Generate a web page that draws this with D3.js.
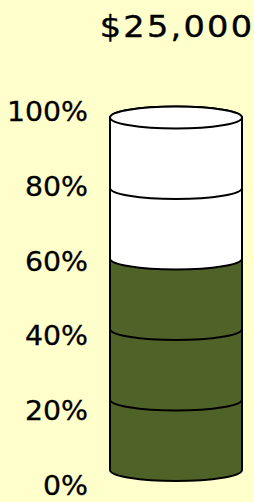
<!DOCTYPE html>
<html>
<head>
<meta charset="utf-8">
<script src="https://cdn.jsdelivr.net/npm/d3@7"></script>
<style>
  body { margin: 0; background: #ffffcc; }
  svg { display: block; }
  text { font-family: "DejaVu Sans", sans-serif; fill: #000; }
</style>
</head>
<body>
<div id="wrapper"></div>
<script>
// data
const goal = 25000
const segmentShares = [20, 20, 20, 20, 20]
const fundedShare = 60
const tickValues = [0, 20, 40, 60, 80, 100]

const dimensions = {
  width: 254,
  height: 502,
  cylinder: { left: 110, right: 242, top: 117.5, bottom: 470, ry: 11 },
  axisX: 88,
  labelTop: 110.5,
  labelBottom: 485,
}

const svg = d3
  .select("#wrapper")
  .append("svg")
  .attr("width", dimensions.width)
  .attr("height", dimensions.height)

svg.append("rect")
  .attr("width", dimensions.width)
  .attr("height", dimensions.height)
  .attr("fill", "#ffffcc")

const c = dimensions.cylinder
const rx = (c.right - c.left) / 2
const cx = (c.left + c.right) / 2

// scales
const yScale = d3.scaleLinear().domain([0, 100]).range([c.bottom, c.top])
const labelScale = d3
  .scaleLinear()
  .domain([0, 100])
  .range([dimensions.labelBottom, dimensions.labelTop])

// stacked segments
let acc = 0
const segments = segmentShares.map((v) => {
  const s = { y0: acc, y1: acc + v }
  acc += v
  return s
})

const segPath = (d) => {
  const b = yScale(d.y0)
  const t = yScale(d.y1)
  return `M${c.left},${t} L${c.left},${b} ` +
    `A${rx},${c.ry} 0 0 0 ${c.right},${b} L${c.right},${t} ` +
    `A${rx},${c.ry} 0 0 0 ${c.left},${t} Z`
}

const cyl = svg.append("g")

cyl.selectAll("path")
  .data(segments)
  .join("path")
  .attr("d", segPath)
  .attr("fill", (d) => (d.y1 <= fundedShare ? "#4f6228" : "#ffffff"))
  .attr("stroke", "#000")
  .attr("stroke-width", 2)
  .attr("stroke-linejoin", "round")

// top cap
cyl.append("ellipse")
  .attr("cx", cx)
  .attr("cy", yScale(100))
  .attr("rx", rx)
  .attr("ry", c.ry)
  .attr("fill", "#ffffff")
  .attr("stroke", "#000")
  .attr("stroke-width", 2)

// axis labels
const axis = d3
  .axisLeft(labelScale)
  .tickValues(tickValues)
  .tickSize(0)
  .tickFormat((d) => d + "%")

const axisG = svg.append("g")
  .attr("transform", `translate(${dimensions.axisX},0)`)
  .call(axis)

axisG.select(".domain").remove()
axisG.selectAll("text")
  .attr("x", 0)
  .attr("dy", "0.36em")
  .attr("transform", "scale(1.05,1)")
  .style("font-family", "'DejaVu Sans', sans-serif")
  .style("font-size", "27px")
  .attr("fill", "#000")
  .attr("stroke", "#000")
  .attr("stroke-width", 0.3)

// title
svg.append("text")
  .attr("transform", `translate(${cx + 1},37) scale(1.12,1)`)
  .attr("text-anchor", "middle")
  .style("font-size", "30px")
  .style("letter-spacing", "2px")
  .attr("stroke", "#000")
  .attr("stroke-width", 0.4)
  .text(d3.format("$,")(goal))
</script>
</body>
</html>
